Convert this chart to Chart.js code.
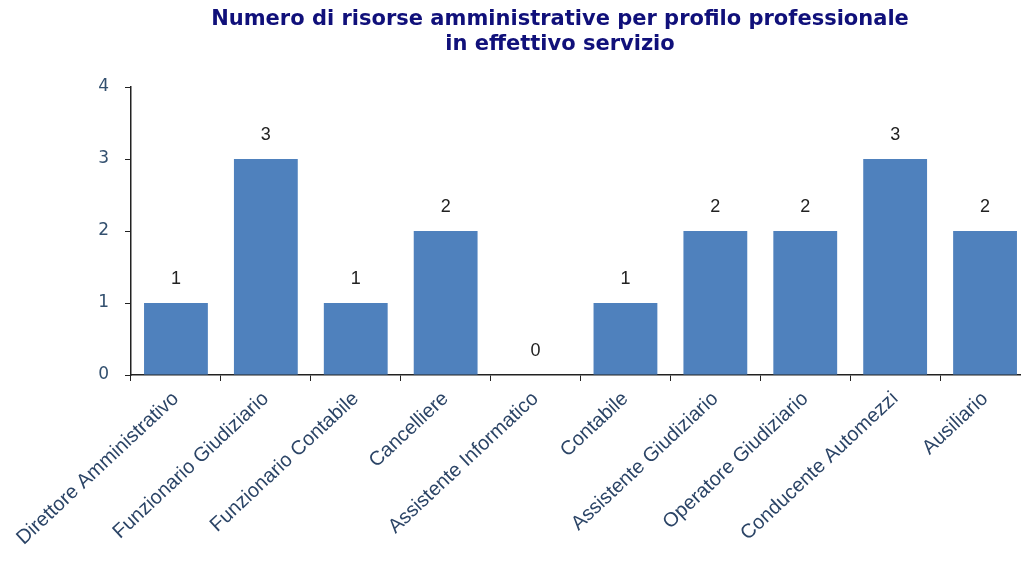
<!DOCTYPE html>
<html lang="it">
<head>
<meta charset="utf-8">
<title>Risorse amministrative per profilo professionale</title>
<script src="https://cdn.jsdelivr.net/npm/chart.js@4/dist/chart.umd.min.js"></script>
<style>
  html, body { margin: 0; padding: 0; background: #fff; overflow: hidden; }
  #wrap { position: relative; width: 1031px; height: 561px; }
</style>
</head>
<body>
<div id="wrap"><canvas id="profiliChart"></canvas></div>
<script>
// Dati: profili professionali e numero di risorse in servizio
const profili = [
  'Direttore Amministrativo', 'Funzionario Giudiziario', 'Funzionario Contabile',
  'Cancelliere', 'Assistente Informatico', 'Contabile', 'Assistente Giudiziario',
  'Operatore Giudiziario', 'Conducente Automezzi', 'Ausiliario'
];
const risorse = [1, 3, 1, 2, 0, 1, 2, 2, 3, 2];
const yTicks = [0, 1, 2, 3, 4];
const titolo = ['Numero di risorse amministrative per profilo professionale', 'in effettivo servizio'];

const BLU = '#4F81BD';

// titolo su due righe
const titlePlugin = {
  id: 'titoloGrafico',
  afterDraw(chart) {
    const ctx = chart.ctx;
    ctx.save();
    ctx.fillStyle = '#10107a';
    ctx.font = 'bold 21px "DejaVu Sans", Verdana, sans-serif';
    ctx.textAlign = 'center';
    ctx.textBaseline = 'middle';
    ctx.fillText(titolo[0], 560, 20);
    ctx.fillText(titolo[1], 560, 45);
    ctx.restore();
  }
};

// etichette con il valore sopra ogni barra
const valuePlugin = {
  id: 'valoriBarre',
  afterDatasetsDraw(chart) {
    const ctx = chart.ctx;
    const meta = chart.getDatasetMeta(0);
    ctx.save();
    ctx.fillStyle = '#222';
    ctx.font = '18px "Liberation Sans", Arial, sans-serif';
    ctx.textAlign = 'center';
    ctx.textBaseline = 'middle';
    meta.data.forEach((bar, i) => {
      ctx.fillText(String(risorse[i]), bar.x, bar.y - 24);
    });
    ctx.restore();
  }
};

new Chart(document.getElementById('profiliChart'), {
  type: 'bar',
  data: {
    labels: profili,
    datasets: [{
      data: risorse,
      backgroundColor: BLU,
      borderWidth: 0,
      categoryPercentage: 1,
      barPercentage: 0.71
    }]
  },
  options: {
    responsive: true,
    maintainAspectRatio: false,
    animation: false,
    layout: { padding: { top: 87, left: 0, right: 1, bottom: 0 } },
    plugins: {
      legend: { display: false },
      tooltip: { enabled: false },
      title: { display: false }
    },
    scales: {
      x: {
        grid: { display: true, drawOnChartArea: false, drawTicks: true, tickLength: 6, color: '#222', offset: true },
        border: { display: true, color: '#222', width: 1.5 },
        ticks: {
          color: '#2b4466',
          font: { family: '"Liberation Sans", Arial, sans-serif', size: 20 },
          minRotation: 43,
          maxRotation: 43,
          autoSkip: false,
          padding: 6
        },
        afterFit(s) {
          s.height = 186;
          s.paddingLeft = 0;
          s.paddingRight = 0;
        }
      },
      y: {
        min: 0,
        max: 4,
        afterBuildTicks(s) {
          s.ticks = yTicks.map(v => ({ value: v }));
        },
        grid: { display: true, drawOnChartArea: false, drawTicks: true, tickLength: 6, color: '#222' },
        border: { display: true, color: '#222', width: 1.5 },
        ticks: {
          color: '#33506f',
          font: { family: '"DejaVu Sans", Verdana, sans-serif', size: 17 },
          padding: 16
        },
        afterFit(s) {
          s.width = 131;
        }
      }
    }
  },
  plugins: [titlePlugin, valuePlugin]
});
</script>
</body>
</html>
